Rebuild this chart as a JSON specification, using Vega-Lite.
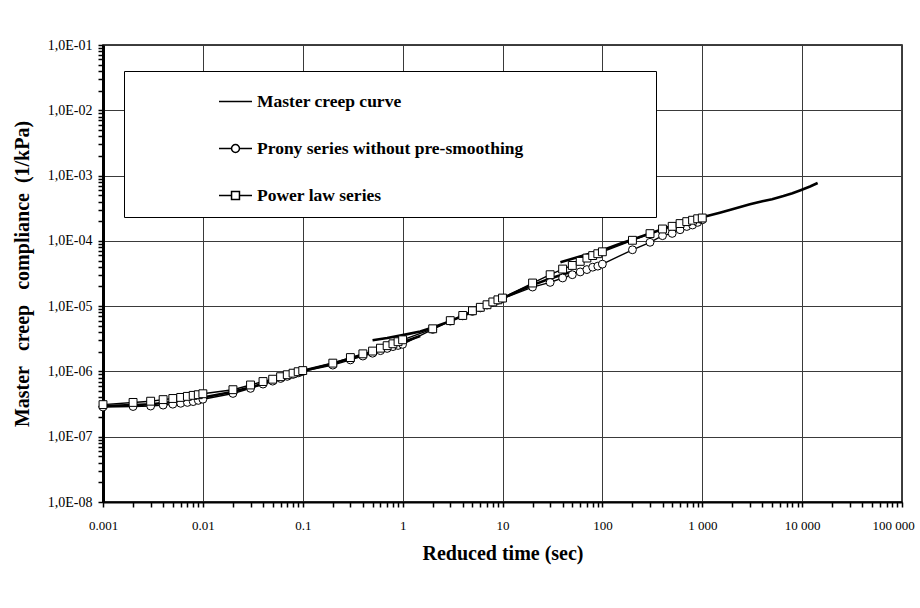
{
  "$schema": "https://vega.github.io/schema/vega-lite/v6.json",
  "width": 799,
  "height": 457,
  "autosize": "none",
  "padding": {"left": 103, "top": 45, "right": 18, "bottom": 106},
  "background": "white",
  "config": {
    "font": "Liberation Serif",
    "view": {"stroke": "black", "strokeWidth": 1.5}
  },
  "datasets": {
    "creep": [
      {"series": "Master creep curve", "segment": "A", "time": 0.001, "compliance": 2.95e-7},
      {"series": "Master creep curve", "segment": "A", "time": 0.002, "compliance": 3.05e-7},
      {"series": "Master creep curve", "segment": "A", "time": 0.003, "compliance": 3.15e-7},
      {"series": "Master creep curve", "segment": "A", "time": 0.005, "compliance": 3.4e-7},
      {"series": "Master creep curve", "segment": "A", "time": 0.007, "compliance": 3.65e-7},
      {"series": "Master creep curve", "segment": "A", "time": 0.01, "compliance": 4.0e-7},
      {"series": "Master creep curve", "segment": "A", "time": 0.02, "compliance": 4.9e-7},
      {"series": "Master creep curve", "segment": "A", "time": 0.03, "compliance": 5.7e-7},
      {"series": "Master creep curve", "segment": "A", "time": 0.05, "compliance": 7.2e-7},
      {"series": "Master creep curve", "segment": "A", "time": 0.07, "compliance": 8.5e-7},
      {"series": "Master creep curve", "segment": "A", "time": 0.1, "compliance": 1.02e-6},
      {"series": "Master creep curve", "segment": "A", "time": 0.2, "compliance": 1.32e-6},
      {"series": "Master creep curve", "segment": "A", "time": 0.3, "compliance": 1.58e-6},
      {"series": "Master creep curve", "segment": "A", "time": 0.5, "compliance": 2.0e-6},
      {"series": "Master creep curve", "segment": "A", "time": 0.7, "compliance": 2.35e-6},
      {"series": "Master creep curve", "segment": "A", "time": 1, "compliance": 2.8e-6},
      {"series": "Master creep curve", "segment": "A", "time": 1.5, "compliance": 3.5e-6},
      {"series": "Master creep curve", "segment": "B", "time": 0.5, "compliance": 3.0e-6},
      {"series": "Master creep curve", "segment": "B", "time": 0.7, "compliance": 3.25e-6},
      {"series": "Master creep curve", "segment": "B", "time": 1, "compliance": 3.6e-6},
      {"series": "Master creep curve", "segment": "B", "time": 1.5, "compliance": 4.1e-6},
      {"series": "Master creep curve", "segment": "B", "time": 2, "compliance": 4.7e-6},
      {"series": "Master creep curve", "segment": "B", "time": 3, "compliance": 5.9e-6},
      {"series": "Master creep curve", "segment": "B", "time": 5, "compliance": 8.2e-6},
      {"series": "Master creep curve", "segment": "B", "time": 7, "compliance": 1.05e-5},
      {"series": "Master creep curve", "segment": "B", "time": 10, "compliance": 1.32e-5},
      {"series": "Master creep curve", "segment": "B", "time": 15, "compliance": 1.75e-5},
      {"series": "Master creep curve", "segment": "B", "time": 20, "compliance": 2.1e-5},
      {"series": "Master creep curve", "segment": "B", "time": 30, "compliance": 2.65e-5},
      {"series": "Master creep curve", "segment": "B", "time": 50, "compliance": 3.4e-5},
      {"series": "Master creep curve", "segment": "C", "time": 38, "compliance": 4.7e-5},
      {"series": "Master creep curve", "segment": "C", "time": 50, "compliance": 5.3e-5},
      {"series": "Master creep curve", "segment": "C", "time": 70, "compliance": 6.2e-5},
      {"series": "Master creep curve", "segment": "C", "time": 100, "compliance": 7.2e-5},
      {"series": "Master creep curve", "segment": "C", "time": 150, "compliance": 9.0e-5},
      {"series": "Master creep curve", "segment": "C", "time": 200, "compliance": 1.05e-4},
      {"series": "Master creep curve", "segment": "C", "time": 300, "compliance": 1.3e-4},
      {"series": "Master creep curve", "segment": "C", "time": 500, "compliance": 1.7e-4},
      {"series": "Master creep curve", "segment": "C", "time": 700, "compliance": 1.98e-4},
      {"series": "Master creep curve", "segment": "C", "time": 1000, "compliance": 2.3e-4},
      {"series": "Master creep curve", "segment": "C", "time": 1500, "compliance": 2.7e-4},
      {"series": "Master creep curve", "segment": "C", "time": 2000, "compliance": 3.05e-4},
      {"series": "Master creep curve", "segment": "C", "time": 3000, "compliance": 3.65e-4},
      {"series": "Master creep curve", "segment": "C", "time": 4000, "compliance": 4.05e-4},
      {"series": "Master creep curve", "segment": "C", "time": 5000, "compliance": 4.35e-4},
      {"series": "Master creep curve", "segment": "C", "time": 6500, "compliance": 4.85e-4},
      {"series": "Master creep curve", "segment": "C", "time": 8000, "compliance": 5.35e-4},
      {"series": "Master creep curve", "segment": "C", "time": 9500, "compliance": 5.9e-4},
      {"series": "Master creep curve", "segment": "C", "time": 12000, "compliance": 6.8e-4},
      {"series": "Master creep curve", "segment": "C", "time": 14300, "compliance": 7.7e-4},

      {"series": "Prony series without pre-smoothing", "segment": "P", "time": 0.001, "compliance": 2.85e-7},
      {"series": "Prony series without pre-smoothing", "segment": "P", "time": 0.002, "compliance": 2.9e-7},
      {"series": "Prony series without pre-smoothing", "segment": "P", "time": 0.003, "compliance": 2.95e-7},
      {"series": "Prony series without pre-smoothing", "segment": "P", "time": 0.004, "compliance": 3.05e-7},
      {"series": "Prony series without pre-smoothing", "segment": "P", "time": 0.005, "compliance": 3.15e-7},
      {"series": "Prony series without pre-smoothing", "segment": "P", "time": 0.006, "compliance": 3.25e-7},
      {"series": "Prony series without pre-smoothing", "segment": "P", "time": 0.007, "compliance": 3.35e-7},
      {"series": "Prony series without pre-smoothing", "segment": "P", "time": 0.008, "compliance": 3.45e-7},
      {"series": "Prony series without pre-smoothing", "segment": "P", "time": 0.009, "compliance": 3.6e-7},
      {"series": "Prony series without pre-smoothing", "segment": "P", "time": 0.01, "compliance": 3.75e-7},
      {"series": "Prony series without pre-smoothing", "segment": "P", "time": 0.02, "compliance": 4.6e-7},
      {"series": "Prony series without pre-smoothing", "segment": "P", "time": 0.03, "compliance": 5.5e-7},
      {"series": "Prony series without pre-smoothing", "segment": "P", "time": 0.04, "compliance": 6.4e-7},
      {"series": "Prony series without pre-smoothing", "segment": "P", "time": 0.05, "compliance": 7.1e-7},
      {"series": "Prony series without pre-smoothing", "segment": "P", "time": 0.06, "compliance": 7.8e-7},
      {"series": "Prony series without pre-smoothing", "segment": "P", "time": 0.07, "compliance": 8.4e-7},
      {"series": "Prony series without pre-smoothing", "segment": "P", "time": 0.08, "compliance": 9.0e-7},
      {"series": "Prony series without pre-smoothing", "segment": "P", "time": 0.09, "compliance": 9.5e-7},
      {"series": "Prony series without pre-smoothing", "segment": "P", "time": 0.1, "compliance": 1.0e-6},
      {"series": "Prony series without pre-smoothing", "segment": "P", "time": 0.2, "compliance": 1.25e-6},
      {"series": "Prony series without pre-smoothing", "segment": "P", "time": 0.3, "compliance": 1.5e-6},
      {"series": "Prony series without pre-smoothing", "segment": "P", "time": 0.4, "compliance": 1.72e-6},
      {"series": "Prony series without pre-smoothing", "segment": "P", "time": 0.5, "compliance": 1.9e-6},
      {"series": "Prony series without pre-smoothing", "segment": "P", "time": 0.6, "compliance": 2.08e-6},
      {"series": "Prony series without pre-smoothing", "segment": "P", "time": 0.7, "compliance": 2.25e-6},
      {"series": "Prony series without pre-smoothing", "segment": "P", "time": 0.8, "compliance": 2.4e-6},
      {"series": "Prony series without pre-smoothing", "segment": "P", "time": 0.9, "compliance": 2.5e-6},
      {"series": "Prony series without pre-smoothing", "segment": "P", "time": 1, "compliance": 2.6e-6},
      {"series": "Prony series without pre-smoothing", "segment": "P", "time": 2, "compliance": 4.4e-6},
      {"series": "Prony series without pre-smoothing", "segment": "P", "time": 3, "compliance": 5.9e-6},
      {"series": "Prony series without pre-smoothing", "segment": "P", "time": 4, "compliance": 7.1e-6},
      {"series": "Prony series without pre-smoothing", "segment": "P", "time": 5, "compliance": 8.3e-6},
      {"series": "Prony series without pre-smoothing", "segment": "P", "time": 6, "compliance": 9.4e-6},
      {"series": "Prony series without pre-smoothing", "segment": "P", "time": 7, "compliance": 1.04e-5},
      {"series": "Prony series without pre-smoothing", "segment": "P", "time": 8, "compliance": 1.14e-5},
      {"series": "Prony series without pre-smoothing", "segment": "P", "time": 9, "compliance": 1.23e-5},
      {"series": "Prony series without pre-smoothing", "segment": "P", "time": 10, "compliance": 1.31e-5},
      {"series": "Prony series without pre-smoothing", "segment": "P", "time": 20, "compliance": 1.96e-5},
      {"series": "Prony series without pre-smoothing", "segment": "P", "time": 30, "compliance": 2.31e-5},
      {"series": "Prony series without pre-smoothing", "segment": "P", "time": 40, "compliance": 2.7e-5},
      {"series": "Prony series without pre-smoothing", "segment": "P", "time": 50, "compliance": 3.03e-5},
      {"series": "Prony series without pre-smoothing", "segment": "P", "time": 60, "compliance": 3.34e-5},
      {"series": "Prony series without pre-smoothing", "segment": "P", "time": 70, "compliance": 3.63e-5},
      {"series": "Prony series without pre-smoothing", "segment": "P", "time": 80, "compliance": 3.95e-5},
      {"series": "Prony series without pre-smoothing", "segment": "P", "time": 90, "compliance": 4.1e-5},
      {"series": "Prony series without pre-smoothing", "segment": "P", "time": 100, "compliance": 4.4e-5},
      {"series": "Prony series without pre-smoothing", "segment": "P", "time": 200, "compliance": 7.3e-5},
      {"series": "Prony series without pre-smoothing", "segment": "P", "time": 300, "compliance": 9.5e-5},
      {"series": "Prony series without pre-smoothing", "segment": "P", "time": 400, "compliance": 1.2e-4},
      {"series": "Prony series without pre-smoothing", "segment": "P", "time": 500, "compliance": 1.3e-4},
      {"series": "Prony series without pre-smoothing", "segment": "P", "time": 600, "compliance": 1.48e-4},
      {"series": "Prony series without pre-smoothing", "segment": "P", "time": 700, "compliance": 1.66e-4},
      {"series": "Prony series without pre-smoothing", "segment": "P", "time": 800, "compliance": 1.75e-4},
      {"series": "Prony series without pre-smoothing", "segment": "P", "time": 900, "compliance": 1.92e-4},
      {"series": "Prony series without pre-smoothing", "segment": "P", "time": 1000, "compliance": 2.1e-4},

      {"series": "Power law series", "segment": "W", "time": 0.001, "compliance": 3.1e-7},
      {"series": "Power law series", "segment": "W", "time": 0.002, "compliance": 3.35e-7},
      {"series": "Power law series", "segment": "W", "time": 0.003, "compliance": 3.5e-7},
      {"series": "Power law series", "segment": "W", "time": 0.004, "compliance": 3.7e-7},
      {"series": "Power law series", "segment": "W", "time": 0.005, "compliance": 3.85e-7},
      {"series": "Power law series", "segment": "W", "time": 0.006, "compliance": 4.0e-7},
      {"series": "Power law series", "segment": "W", "time": 0.007, "compliance": 4.15e-7},
      {"series": "Power law series", "segment": "W", "time": 0.008, "compliance": 4.3e-7},
      {"series": "Power law series", "segment": "W", "time": 0.009, "compliance": 4.4e-7},
      {"series": "Power law series", "segment": "W", "time": 0.01, "compliance": 4.55e-7},
      {"series": "Power law series", "segment": "W", "time": 0.02, "compliance": 5.25e-7},
      {"series": "Power law series", "segment": "W", "time": 0.03, "compliance": 6.2e-7},
      {"series": "Power law series", "segment": "W", "time": 0.04, "compliance": 7.0e-7},
      {"series": "Power law series", "segment": "W", "time": 0.05, "compliance": 7.6e-7},
      {"series": "Power law series", "segment": "W", "time": 0.06, "compliance": 8.3e-7},
      {"series": "Power law series", "segment": "W", "time": 0.07, "compliance": 8.9e-7},
      {"series": "Power law series", "segment": "W", "time": 0.08, "compliance": 9.4e-7},
      {"series": "Power law series", "segment": "W", "time": 0.09, "compliance": 9.9e-7},
      {"series": "Power law series", "segment": "W", "time": 0.1, "compliance": 1.03e-6},
      {"series": "Power law series", "segment": "W", "time": 0.2, "compliance": 1.34e-6},
      {"series": "Power law series", "segment": "W", "time": 0.3, "compliance": 1.63e-6},
      {"series": "Power law series", "segment": "W", "time": 0.4, "compliance": 1.86e-6},
      {"series": "Power law series", "segment": "W", "time": 0.5, "compliance": 2.05e-6},
      {"series": "Power law series", "segment": "W", "time": 0.6, "compliance": 2.27e-6},
      {"series": "Power law series", "segment": "W", "time": 0.7, "compliance": 2.48e-6},
      {"series": "Power law series", "segment": "W", "time": 0.8, "compliance": 2.65e-6},
      {"series": "Power law series", "segment": "W", "time": 0.9, "compliance": 2.85e-6},
      {"series": "Power law series", "segment": "W", "time": 1, "compliance": 3.05e-6},
      {"series": "Power law series", "segment": "W", "time": 2, "compliance": 4.5e-6},
      {"series": "Power law series", "segment": "W", "time": 3, "compliance": 6.0e-6},
      {"series": "Power law series", "segment": "W", "time": 4, "compliance": 7.2e-6},
      {"series": "Power law series", "segment": "W", "time": 5, "compliance": 8.5e-6},
      {"series": "Power law series", "segment": "W", "time": 6, "compliance": 9.6e-6},
      {"series": "Power law series", "segment": "W", "time": 7, "compliance": 1.05e-5},
      {"series": "Power law series", "segment": "W", "time": 8, "compliance": 1.16e-5},
      {"series": "Power law series", "segment": "W", "time": 9, "compliance": 1.25e-5},
      {"series": "Power law series", "segment": "W", "time": 10, "compliance": 1.33e-5},
      {"series": "Power law series", "segment": "W", "time": 20, "compliance": 2.26e-5},
      {"series": "Power law series", "segment": "W", "time": 30, "compliance": 3.03e-5},
      {"series": "Power law series", "segment": "W", "time": 40, "compliance": 3.7e-5},
      {"series": "Power law series", "segment": "W", "time": 50, "compliance": 4.2e-5},
      {"series": "Power law series", "segment": "W", "time": 60, "compliance": 4.85e-5},
      {"series": "Power law series", "segment": "W", "time": 70, "compliance": 5.45e-5},
      {"series": "Power law series", "segment": "W", "time": 80, "compliance": 5.95e-5},
      {"series": "Power law series", "segment": "W", "time": 90, "compliance": 6.35e-5},
      {"series": "Power law series", "segment": "W", "time": 100, "compliance": 6.8e-5},
      {"series": "Power law series", "segment": "W", "time": 200, "compliance": 1.02e-4},
      {"series": "Power law series", "segment": "W", "time": 300, "compliance": 1.29e-4},
      {"series": "Power law series", "segment": "W", "time": 400, "compliance": 1.52e-4},
      {"series": "Power law series", "segment": "W", "time": 500, "compliance": 1.67e-4},
      {"series": "Power law series", "segment": "W", "time": 600, "compliance": 1.84e-4},
      {"series": "Power law series", "segment": "W", "time": 700, "compliance": 1.97e-4},
      {"series": "Power law series", "segment": "W", "time": 800, "compliance": 2.07e-4},
      {"series": "Power law series", "segment": "W", "time": 900, "compliance": 2.18e-4},
      {"series": "Power law series", "segment": "W", "time": 1000, "compliance": 2.24e-4}
    ]
  },
  "data": {"name": "creep"},
  "encoding": {
    "x": {
      "field": "time",
      "type": "quantitative",
      "scale": {"type": "log", "domain": [0.001, 100000], "nice": false},
      "axis": {
        "title": "Reduced time (sec)",
        "titleFont": "Liberation Serif",
        "titleFontSize": 20,
        "titleFontWeight": "bold",
        "titleColor": "black",
        "titlePadding": 11,
        "values": [0.001, 0.002, 0.003, 0.004, 0.005, 0.006, 0.007, 0.008, 0.009,
                   0.01, 0.02, 0.03, 0.04, 0.05, 0.06, 0.07, 0.08, 0.09,
                   0.1, 0.2, 0.3, 0.4, 0.5, 0.6, 0.7, 0.8, 0.9,
                   1, 2, 3, 4, 5, 6, 7, 8, 9,
                   10, 20, 30, 40, 50, 60, 70, 80, 90,
                   100, 200, 300, 400, 500, 600, 700, 800, 900,
                   1000, 2000, 3000, 4000, 5000, 6000, 7000, 8000, 9000,
                   10000, 20000, 30000, 40000, 50000, 60000, 70000, 80000, 90000,
                   100000],
        "labelExpr": "abs(log(datum.value)/LN10 - round(log(datum.value)/LN10)) < 1e-6 ? replace(format(datum.value, ','), ',', ' ') : ''",
        "labelFont": "Liberation Serif",
        "labelFontSize": 13,
        "labelColor": "black",
        "labelPadding": 12,
        "labelOffset": {"condition": {"test": "datum.value > 50000", "value": -9}, "value": 0},
        "labelOverlap": false,
        "labelFlush": false,
        "labelBound": false,
        "tickSize": 5,
        "tickColor": "black",
        "tickWidth": 1.5,
        "domainColor": "black",
        "domainWidth": 2,
        "grid": true,
        "gridColor": "#3a3a3a",
        "gridWidth": 1,
        "gridOpacity": {"condition": {"test": "abs(log(datum.value)/LN10 - round(log(datum.value)/LN10)) < 1e-6", "value": 1}, "value": 0}
      }
    },
    "y": {
      "field": "compliance",
      "type": "quantitative",
      "scale": {"type": "log", "domain": [1e-8, 0.1], "nice": false},
      "axis": {
        "title": "Master\u00a0\u00a0 creep\u00a0\u00a0 compliance\u00a0 (1/kPa)",
        "titleFont": "Liberation Serif",
        "titleFontSize": 20,
        "titleFontWeight": "bold",
        "titleColor": "black",
        "titlePadding": 15,
        "values": [1e-8, 2e-8, 3e-8, 4e-8, 5e-8, 6e-8, 7e-8, 8e-8, 9e-8,
                   1e-7, 2e-7, 3e-7, 4e-7, 5e-7, 6e-7, 7e-7, 8e-7, 9e-7,
                   1e-6, 2e-6, 3e-6, 4e-6, 5e-6, 6e-6, 7e-6, 8e-6, 9e-6,
                   1e-5, 2e-5, 3e-5, 4e-5, 5e-5, 6e-5, 7e-5, 8e-5, 9e-5,
                   1e-4, 2e-4, 3e-4, 4e-4, 5e-4, 6e-4, 7e-4, 8e-4, 9e-4,
                   1e-3, 2e-3, 3e-3, 4e-3, 5e-3, 6e-3, 7e-3, 8e-3, 9e-3,
                   1e-2, 2e-2, 3e-2, 4e-2, 5e-2, 6e-2, 7e-2, 8e-2, 9e-2,
                   0.1],
        "labelExpr": "abs(log(datum.value)/LN10 - round(log(datum.value)/LN10)) < 1e-6 ? '1,0E-0' + round(-log(datum.value)/LN10) : ''",
        "labelFont": "Liberation Serif",
        "labelFontSize": 14,
        "labelColor": "black",
        "labelPadding": 6,
        "labelOverlap": false,
        "labelFlush": false,
        "labelBound": false,
        "tickSize": 5,
        "tickColor": "black",
        "tickWidth": 1.5,
        "domainColor": "black",
        "domainWidth": 3,
        "grid": true,
        "gridColor": "#3a3a3a",
        "gridWidth": 1,
        "gridOpacity": {"condition": {"test": "abs(log(datum.value)/LN10 - round(log(datum.value)/LN10)) < 1e-6", "value": 1}, "value": 0}
      }
    }
  },
  "layer": [
    {
      "transform": [{"filter": "datum.series === 'Master creep curve'"}],
      "mark": {"type": "line", "color": "black", "strokeWidth": 2.6, "clip": true},
      "encoding": {"detail": {"field": "segment"}}
    },
    {
      "transform": [{"filter": "datum.series !== 'Master creep curve'"}],
      "mark": {"type": "line", "color": "black", "strokeWidth": 1.4, "clip": true},
      "encoding": {"detail": {"field": "series"}}
    },
    {
      "description": "Legend key: carries the shape legend, its own marks stay transparent",
      "transform": [{"filter": "datum.series !== 'Master creep curve'"}],
      "mark": {"type": "point", "filled": true, "fill": "white", "stroke": "black", "strokeWidth": 1, "size": 62, "opacity": 0},
      "encoding": {
        "shape": {
          "field": "series",
          "type": "nominal",
          "scale": {
            "domain": ["Master creep curve", "Prony series without pre-smoothing", "Power law series"],
            "range": [
              "M-1,0H1",
              "M-1,0H-0.24M0.24,0H1M-0.24,0A0.24,0.24 0 1,0 0.24,0A0.24,0.24 0 1,0 -0.24,0Z",
              "M-1,0H-0.24M0.24,0H1M-0.24,-0.24H0.24V0.24H-0.24Z"
            ]
          },
          "legend": {
            "orient": "none",
            "legendX": 21,
            "legendY": 26,
            "title": "\u00a0",
            "titleOrient": "right",
            "titlePadding": 120,
            "titleFontSize": 4,
            "fillColor": "white",
            "strokeColor": "black",
            "padding": 13,
            "symbolSize": 1089,
            "symbolOffset": 81,
            "labelOffset": 4,
            "rowPadding": 21,
            "labelFont": "Liberation Serif",
            "labelFontSize": 17.5,
            "labelFontWeight": "bold",
            "labelColor": "black",
            "labelLimit": 400,
            "symbolStrokeWidth": 1.5,
            "symbolFillColor": "white",
            "symbolStrokeColor": "black",
            "symbolOpacity": 1,
            "encoding": {
              "symbols": {
                "fill": {"value": "white"},
                "stroke": {"value": "black"},
                "strokeWidth": {"value": 1.5},
                "opacity": {"value": 1}
              }
            }
          }
        }
      }
    },
    {
      "transform": [{"filter": "datum.series === 'Prony series without pre-smoothing'"}],
      "mark": {"type": "point", "shape": "circle", "filled": true, "fill": "white", "stroke": "black", "strokeWidth": 1, "size": 62, "opacity": 1}
    },
    {
      "transform": [{"filter": "datum.series === 'Power law series'"}],
      "mark": {"type": "point", "shape": "square", "filled": true, "fill": "white", "stroke": "black", "strokeWidth": 1, "size": 62, "opacity": 1}
    }
  ]
}
